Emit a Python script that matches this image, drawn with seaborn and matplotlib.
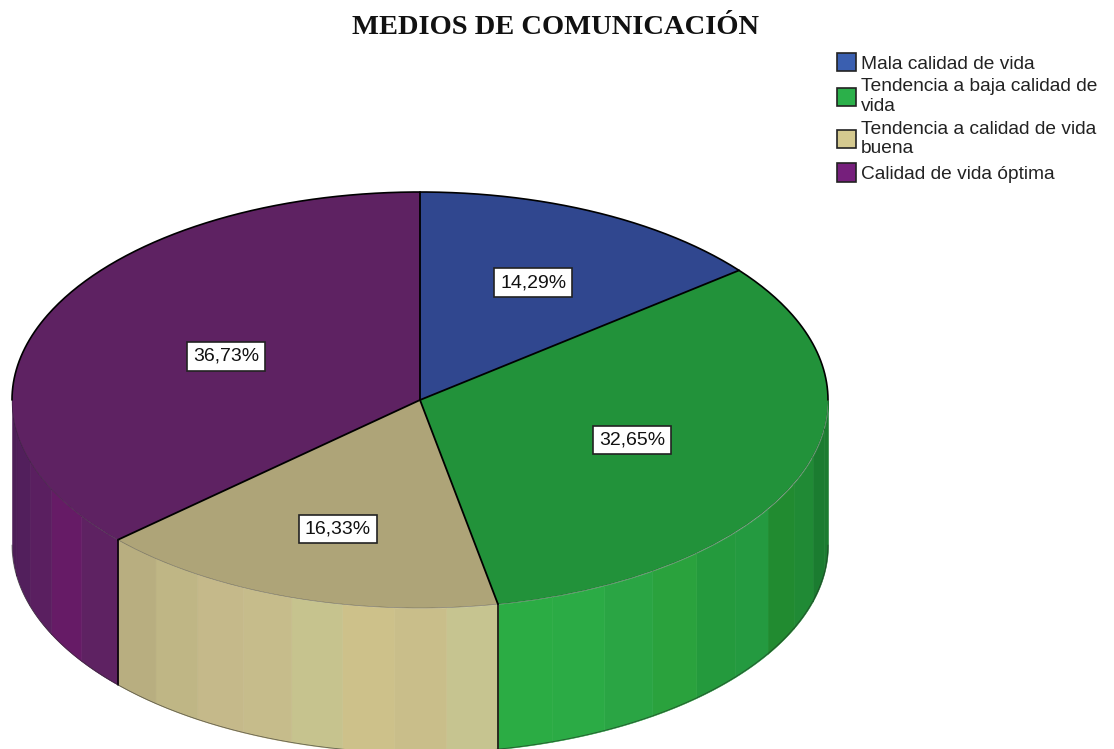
import numpy as np
import matplotlib
matplotlib.use("Agg")
import matplotlib.pyplot as plt
from matplotlib.patches import Patch
import seaborn as sns

title = "MEDIOS DE COMUNICACIÓN"
categories = ["Mala calidad de vida", "Tendencia a baja calidad de\nvida",
              "Tendencia a calidad de vida\nbuena", "Calidad de vida óptima"]
values = [14.29, 32.65, 16.33, 36.73]

top_colors = ["#30478f", "#22923a", "#aea478", "#5e2262"]
legend_colors = ["#3a5fb0", "#2bb04a", "#d4c98f", "#761f7c"]

# bands on the visible rim, going clockwise from the right edge
green_bands = ["#1b7c30", "#1b7c30", "#208a35", "#218b30", "#249a40", "#249a3d",
               "#2aa23d", "#2aa544", "#2bab45", "#2bac44"]
tan_bands = ["#c6c490", "#c9be8a", "#cdc18a", "#c6c38e", "#c6bc8b",
             "#c5b98a", "#bfb685", "#b8ae80"]
purple_bands = ["#5e2262", "#661b66", "#5a1f60", "#521f5c", "#4d1e57"]

label_r = [0.63, 0.55, 0.65, 0.525]

sns.set_theme(style="white")
plt.rcParams["font.family"] = ["Liberation Sans", "DejaVu Sans"]

W, H = 1114, 749
cx, cy, rx, ry, depth = 420, 400, 408, 208, 145

fig = plt.figure(figsize=(W / 100, H / 100), dpi=100)
ax = fig.add_axes([0, 0, 1, 1])

ax.pie(values, colors=sns.color_palette(top_colors), startangle=90,
       counterclock=False, radius=1, wedgeprops={"linewidth": 0, "zorder": 3})
ax.set_aspect("auto")
ax.set_xlim(-cx / rx, (W - cx) / rx)
ax.set_ylim((cy - H) / ry, cy / ry)
d = depth / ry

# slice edges, clockwise from the top, in radians
edges = np.radians(np.cumsum([0] + values) * 3.6)


def rim(start, stop, bands):
    steps = np.linspace(start, stop, len(bands) + 1)
    for a, b, col in zip(steps[:-1], steps[1:], bands):
        t = np.linspace(a, b, 30)
        ax.fill_between(np.sin(t), np.cos(t) - d, np.cos(t), color=col,
                        linewidth=0.4, zorder=2)


rim(np.pi / 2, edges[2], green_bands)
rim(edges[2], edges[3], tan_bands)
rim(edges[3], 1.5 * np.pi, purple_bands)

# black lines
for e in edges[:-1]:
    ax.plot([0, np.sin(e)], [0, np.cos(e)], color="black", lw=1.3, zorder=5)
for e in edges[2:4]:
    ax.plot([np.sin(e)] * 2, [np.cos(e), np.cos(e) - d], color="black", lw=1.1, zorder=5)

t = np.linspace(-np.pi / 2, np.pi / 2, 300)
ax.plot(np.sin(t), np.cos(t), color="black", lw=1.2, zorder=5)
t = np.linspace(np.pi / 2, 1.5 * np.pi, 300)
ax.plot(np.sin(t), np.cos(t), color="#222222", lw=0.5, alpha=0.45, zorder=5)
ax.plot(np.sin(t), np.cos(t) - d, color="#222222", lw=0.6, alpha=0.6, zorder=5)

# percent labels
mids = np.radians((np.cumsum([0] + values)[:-1] + np.array(values) / 2) * 3.6)
for v, m, r in zip(values, mids, label_r):
    ax.annotate(f"{v:.2f}%".replace(".", ","), (r * np.sin(m), r * np.cos(m)),
                xytext=(1.2, -0.4), textcoords="offset points",
                ha="center", va="center", fontsize=14, color="#111111", zorder=6,
                bbox={"boxstyle": "square,pad=0.3", "fc": "white", "ec": "#222222", "lw": 1.2})

fig.text(556 / W, 1 - 28 / H, title, ha="center", va="center", fontsize=20.5,
         family="Liberation Serif", weight="bold", color="#111111")

handles = [Patch(facecolor=c, edgecolor="#222222", linewidth=1.2) for c in legend_colors]
ax.legend(handles, categories, loc="upper left", bbox_to_anchor=(837 / W, 1 - 53 / H),
          bbox_transform=fig.transFigure, frameon=False, fontsize=13.8,
          labelspacing=0.3, handlelength=1.0, handleheight=1.1, handletextpad=0.25,
          borderpad=0, borderaxespad=0, labelcolor="#222222")
for txt in ax.get_legend().get_texts():
    txt.set_linespacing(1.2)

fig.savefig("out.png", dpi=100)
